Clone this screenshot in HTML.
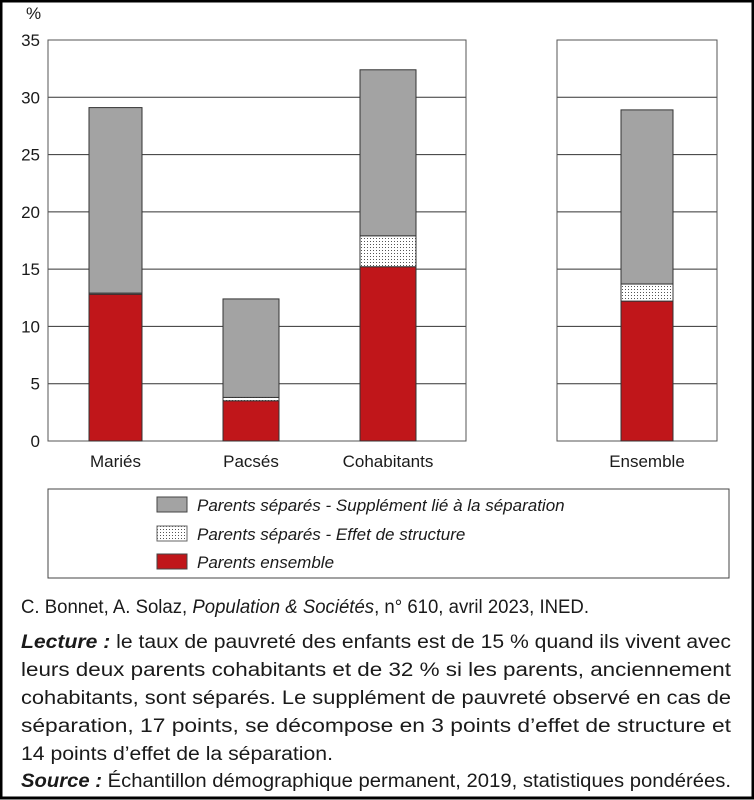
<!DOCTYPE html>
<html><head><meta charset="utf-8"><style>
html,body{margin:0;padding:0;background:#fff}
svg{display:block}
text{font-family:"Liberation Sans Narrow","Liberation Sans",sans-serif;fill:#1a1a1a}
</style></head><body>
<svg id="chart" width="754" height="800" viewBox="0 0 754 800">
<defs>
<pattern id="dots" width="3" height="3" patternUnits="userSpaceOnUse"><rect width="3" height="3" fill="#fff"/><rect x="1" y="1" width="1" height="1" fill="#555"/></pattern>
</defs>
<rect x="1" y="1" width="752" height="797" fill="none" stroke="#000" stroke-width="3"/>
<text x="26" y="19" font-size="17">%</text>
<g id="grid"></g>
<g id="bars"></g>
<g id="labels"></g>
<g>
<rect x="48" y="489" width="681" height="89" fill="none" stroke="#444" stroke-width="1"/>
<rect x="157" y="497" width="30" height="15" fill="#a3a3a3" stroke="#444"/>
<text x="197" y="511" font-size="17" font-style="italic">Parents séparés - Supplément lié à la séparation</text>
<rect x="157" y="526" width="30" height="15" fill="url(#dots)" stroke="#666"/>
<text x="197" y="540" font-size="17" font-style="italic">Parents séparés - Effet de structure</text>
<rect x="157" y="554" width="30" height="15" fill="#c0161a" stroke="#444"/>
<text x="197" y="568" font-size="17" font-style="italic">Parents ensemble</text>
</g>
<g font-size="19">
<text x="21" y="613" textLength="568" lengthAdjust="spacingAndGlyphs">C. Bonnet, A. Solaz, <tspan font-style="italic">Population &amp; Sociétés</tspan>, n° 610, avril 2023, INED.</text>
<text x="21" y="648" textLength="710" lengthAdjust="spacingAndGlyphs"><tspan font-weight="bold" font-style="italic">Lecture :</tspan> le taux de pauvreté des enfants est de 15 % quand ils vivent avec</text>
<text x="21" y="676" textLength="710" lengthAdjust="spacingAndGlyphs">leurs deux parents cohabitants et de 32 % si les parents, anciennement</text>
<text x="21" y="704" textLength="710" lengthAdjust="spacingAndGlyphs">cohabitants, sont séparés. Le supplément de pauvreté observé en cas de</text>
<text x="21" y="732" textLength="710" lengthAdjust="spacingAndGlyphs">séparation, 17 points, se décompose en 3 points d’effet de structure et</text>
<text x="21" y="760" textLength="312" lengthAdjust="spacingAndGlyphs">14 points d’effet de la séparation.</text>
<text x="21" y="787" textLength="710" lengthAdjust="spacingAndGlyphs"><tspan font-weight="bold" font-style="italic">Source :</tspan> Échantillon démographique permanent, 2019, statistiques pondérées.</text>
</g>
</svg>
<script>
const categories = ["Mariés","Pacsés","Cohabitants","Ensemble"];
const parentsEnsemble = [12.8, 3.5, 15.2, 12.2];
const effetStructure = [0.1, 0.3, 2.7, 1.5];
const supplementSeparation = [16.2, 8.6, 14.5, 15.2];
const yTicks = [0,5,10,15,20,25,30,35];

const NS="http://www.w3.org/2000/svg";
const y0=441, yTop=40, yMax=35;
const y = v => y0 - v*(y0-yTop)/yMax;
const panels=[{x0:48,x1:466},{x0:557,x1:717}];
const barX=[89,223,360,621], barW=[53,56,56,52];
function mk(tag,attrs,parent){const e=document.createElementNS(NS,tag);for(const k in attrs)e.setAttribute(k,attrs[k]);parent.appendChild(e);return e;}
const grid=document.getElementById('grid'), bars=document.getElementById('bars'), labels=document.getElementById('labels');
panels.forEach((p,pi)=>{
  yTicks.forEach(t=>{
    const l=mk('line',{x1:p.x0,x2:p.x1,y1:y(t),y2:y(t),stroke:t===0?'#444':'#333','stroke-width':1},grid);
    
    
  });
  const r=mk('rect',{x:p.x0,y:yTop,width:p.x1-p.x0,height:y0-yTop,fill:'none',stroke:'#555'},grid);
  
  
});
yTicks.forEach(t=>{
  const tx=mk('text',{x:40,y:y(t)+6,'font-size':17,'text-anchor':'end'},labels);
  tx.textContent=t;
  
  
});
categories.forEach((c,i)=>{
  const x=barX[i], w=barW[i];
  const a=parentsEnsemble[i], b=a+effetStructure[i], s=b+supplementSeparation[i];
  const g=mk('rect',{x:x,y:y(s),width:w,height:y(b)-y(s),fill:'#a3a3a3',stroke:'#333','stroke-width':1},bars);
  
  
  const d=mk('rect',{x:x,y:y(b),width:w,height:y(a)-y(b),fill:'url(#dots)',stroke:'#333','stroke-width':1},bars);
  
  
  const rr=mk('rect',{x:x,y:y(a),width:w,height:y0-y(a),fill:'#c0161a',stroke:'#333','stroke-width':1},bars);
  
  
  const tx=mk('text',{x:x+w/2,y:467,'font-size':17,'text-anchor':'middle'},labels);
  tx.textContent=c;
  
  
});
</script>
</body></html>
